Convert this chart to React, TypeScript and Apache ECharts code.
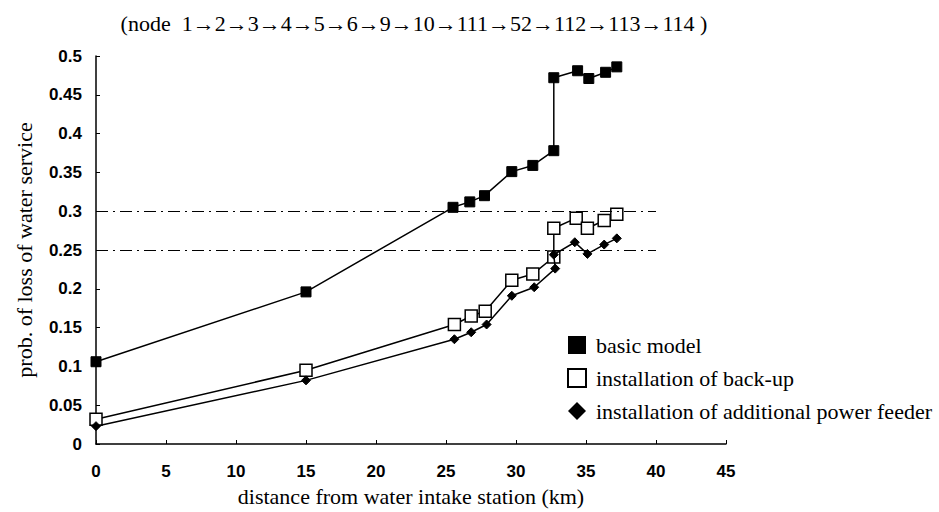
import React, { useEffect, useRef } from "react";
import * as echarts from "echarts";

const basicX = [0, 15, 25.5, 26.7, 27.75, 29.7, 31.2, 32.7, 32.7, 34.4, 35.2, 36.4, 37.2];
const basicY = [0.106, 0.196, 0.305, 0.312, 0.32, 0.351, 0.359, 0.378, 0.472, 0.481, 0.471, 0.479, 0.486];

const backupX = [0, 15, 25.6, 26.8, 27.8, 29.7, 31.2, 32.7, 32.7, 34.3, 35.1, 36.3, 37.2];
const backupY = [0.032, 0.095, 0.154, 0.165, 0.171, 0.211, 0.219, 0.241, 0.278, 0.291, 0.278, 0.288, 0.296];

const feederX = [0, 15, 25.6, 26.8, 27.9, 29.7, 31.3, 32.8, 32.7, 34.2, 35.1, 36.3, 37.2];
const feederY = [0.023, 0.082, 0.135, 0.144, 0.154, 0.191, 0.202, 0.226, 0.244, 0.26, 0.245, 0.257, 0.265];

const thresholds = [0.3, 0.25];
const thresholdEndX = 40;

const seriesNames = [
  "basic model",
  "installation of back-up",
  "installation of additional power feeder",
];

const titleText = "(node  1\u21922\u21923\u21924\u21925\u21926\u21929\u219210\u2192111\u219252\u2192112\u2192113\u2192114 )";

const pairs = (xs: number[], ys: number[]) => xs.map((x, i) => [x, ys[i]]);

const serif = "'Liberation Serif', 'DejaVu Serif', serif";
const sans = "'Liberation Sans', Arial, sans-serif";

export default function App() {
  const ref = useRef<HTMLDivElement>(null);
  useEffect(() => {
    document.body.style.margin = "0";
    const chart = echarts.init(ref.current!, null, { renderer: "svg" });
    chart.setOption({
      animation: false,
      backgroundColor: "#ffffff",
      graphic: [
        {
          type: "text",
          x: 414,
          y: 23,
          style: {
            text: titleText,
            fontFamily: serif,
            fontSize: 22,
            fill: "#000",
            align: "center",
            verticalAlign: "middle",
          },
        },
      ],
      legend: {
        orient: "vertical",
        left: 562,
        top: 329,
        itemWidth: 18,
        itemHeight: 18,
        itemGap: 11,
        textStyle: { fontFamily: serif, fontSize: 22, color: "#000", padding: [0, 0, 0, 5] },
        data: [
          { name: seriesNames[0], icon: "rect" },
          { name: seriesNames[1], icon: "rect" },
          { name: seriesNames[2], icon: "diamond" },
        ],
      },
      grid: { left: 96, right: 213, top: 56, bottom: 66 },
      xAxis: {
        type: "value",
        min: 0,
        max: 45,
        interval: 5,
        name: "distance from water intake station (km)",
        nameLocation: "middle",
        nameGap: 41,
        nameTextStyle: { fontFamily: serif, fontSize: 22, color: "#000" },
        axisLine: { lineStyle: { color: "#000", width: 1.5 } },
        axisTick: { inside: true, length: 4, lineStyle: { color: "#000" } },
        axisLabel: { fontFamily: sans, fontWeight: "bold", fontSize: 17, color: "#000", margin: 19 },
        splitLine: { show: false },
      },
      yAxis: {
        type: "value",
        min: 0,
        max: 0.5,
        interval: 0.05,
        name: "prob. of loss of water service",
        nameLocation: "middle",
        nameGap: 61,
        nameTextStyle: { fontFamily: serif, fontSize: 22, color: "#000" },
        axisLine: { show: true, lineStyle: { color: "#000", width: 1.5 } },
        axisTick: { show: true, inside: true, length: 4, lineStyle: { color: "#000" } },
        axisLabel: { fontFamily: sans, fontWeight: "bold", fontSize: 17, color: "#000", margin: 14 },
        splitLine: { show: false },
      },
      series: [
        {
          name: seriesNames[0],
          type: "line",
          data: pairs(basicX, basicY),
          symbol: "rect",
          symbolSize: 10,
          lineStyle: { color: "#000", width: 1.5 },
          itemStyle: { color: "#000", borderColor: "#000" },
          markLine: {
            silent: true,
            symbol: "none",
            label: { show: false },
            lineStyle: { color: "#000", width: 1.2, type: [12, 5, 2, 5] },
            data: thresholds.map((t) => [
              { coord: [0, t] },
              { coord: [thresholdEndX, t] },
            ]),
          },
          z: 3,
        },
        {
          name: seriesNames[1],
          type: "line",
          data: pairs(backupX, backupY),
          symbol: "rect",
          symbolSize: 12,
          lineStyle: { color: "#000", width: 1.5 },
          itemStyle: { color: "#fff", borderColor: "#000", borderWidth: 1.5 },
          z: 4,
        },
        {
          name: seriesNames[2],
          type: "line",
          data: pairs(feederX, feederY),
          symbol: "diamond",
          symbolSize: 9,
          lineStyle: { color: "#000", width: 1.5 },
          itemStyle: { color: "#000", borderColor: "#000" },
          z: 5,
        },
      ],
    });
    return () => chart.dispose();
  }, []);
  return <div ref={ref} style={{ width: 939, height: 512 }} />;
}
